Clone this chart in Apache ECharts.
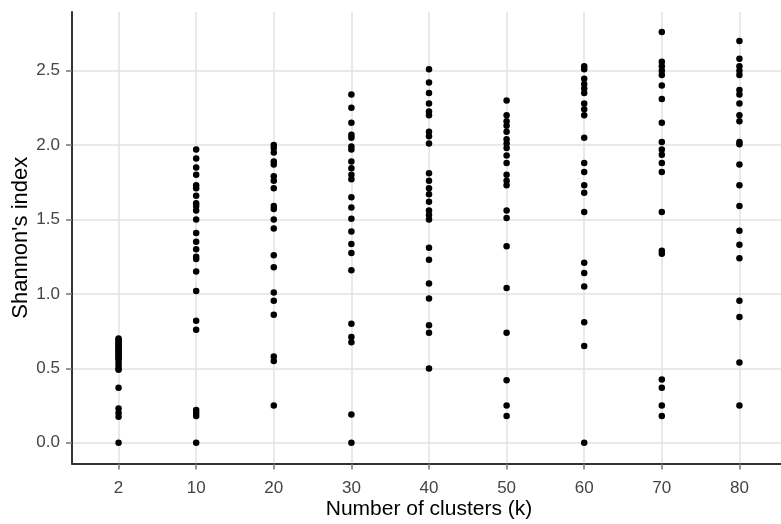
<!DOCTYPE html>
<html>
<head>
<meta charset="utf-8">
<script src="https://cdn.jsdelivr.net/npm/echarts@6/dist/echarts.min.js"></script>
<style>
  html, body { margin: 0; padding: 0; background: #fff; }
  #main { width: 781px; height: 524px; }
</style>
</head>
<body>
<div id="main"></div>
<script>
// categories on the x axis
var clusters = ['2', '10', '20', '30', '40', '50', '60', '70', '80'];
var yTicks = [0, 0.5, 1.0, 1.5, 2.0, 2.5];

// Shannon's index values
var k2 = [0.70, 0.69, 0.68, 0.67, 0.66, 0.65, 0.64, 0.63, 0.62, 0.61, 0.60, 0.59, 0.58, 0.57, 0.56, 0.54, 0.52, 0.50, 0.49, 0.37, 0.23, 0.20, 0.175, 0.0];
var k10 = [1.97, 1.91, 1.85, 1.80, 1.73, 1.71, 1.66, 1.61, 1.59, 1.56, 1.50, 1.41, 1.35, 1.30, 1.25, 1.235, 1.15, 1.02, 0.82, 0.76, 0.22, 0.20, 0.18, 0.0];
var k20 = [2.00, 1.98, 1.95, 1.89, 1.87, 1.79, 1.76, 1.71, 1.59, 1.57, 1.50, 1.44, 1.26, 1.18, 1.01, 0.955, 0.86, 0.58, 0.55, 0.25];
var k30 = [2.34, 2.25, 2.15, 2.07, 2.05, 1.99, 1.97, 1.89, 1.845, 1.80, 1.77, 1.65, 1.58, 1.505, 1.42, 1.335, 1.275, 1.16, 0.80, 0.71, 0.675, 0.19, 0.0];
var k40 = [2.51, 2.42, 2.35, 2.28, 2.225, 2.20, 2.09, 2.06, 2.01, 1.81, 1.76, 1.71, 1.67, 1.62, 1.56, 1.53, 1.50, 1.31, 1.23, 1.07, 0.97, 0.79, 0.74, 0.50];
var k50 = [2.30, 2.20, 2.16, 2.13, 2.09, 2.04, 2.01, 1.98, 1.93, 1.88, 1.80, 1.76, 1.73, 1.56, 1.51, 1.32, 1.04, 0.74, 0.42, 0.25, 0.18];
var k60 = [2.53, 2.51, 2.445, 2.41, 2.38, 2.35, 2.28, 2.24, 2.20, 2.05, 1.88, 1.82, 1.73, 1.68, 1.55, 1.21, 1.14, 1.05, 0.81, 0.65, 0.0];
var k70 = [2.76, 2.56, 2.53, 2.50, 2.47, 2.40, 2.31, 2.15, 2.02, 1.97, 1.935, 1.88, 1.82, 1.55, 1.29, 1.27, 0.425, 0.37, 0.25, 0.18];
var k80 = [2.70, 2.58, 2.53, 2.50, 2.47, 2.37, 2.34, 2.28, 2.20, 2.16, 2.02, 2.005, 1.87, 1.73, 1.59, 1.425, 1.33, 1.24, 0.955, 0.845, 0.54, 0.25];

var columns = [k2, k10, k20, k30, k40, k50, k60, k70, k80];

var points = [];
columns.forEach(function (vals, i) {
  vals.forEach(function (v) {
    points.push([i, v]);
  });
});

var catIdx = clusters.map(function (c, i) { return i; });

var chart = echarts.init(document.getElementById('main'));
var option = {
  animation: false,
  grid: { left: 72, top: 12, width: 714, height: 451.5, outerBoundsMode: 'none' },
  xAxis: {
    type: 'value',
    min: -0.6,
    max: 8.6,
    name: 'Number of clusters (k)',
    nameLocation: 'middle',
    nameGap: 35,
    nameMoveOverlap: false,
    nameTextStyle: { color: '#000', fontSize: 21, fontFamily: 'Liberation Sans' },
    axisLine: { show: true, onZero: false, lineStyle: { color: '#333', width: 2 } },
    axisTick: { show: true, length: 6, customValues: catIdx, lineStyle: { color: '#777', width: 1.5 } },
    axisLabel: {
      customValues: catIdx,
      color: '#444', fontSize: 17, fontFamily: 'Liberation Sans', margin: 16,
      formatter: function (v) { return clusters[Math.round(v)]; }
    },
    splitLine: { show: true, lineStyle: { color: '#e2e2e2', width: 1.5 } }
  },
  yAxis: {
    type: 'value',
    min: -0.139,
    max: 2.894,
    name: "Shannon's index",
    nameLocation: 'middle',
    nameGap: 40,
    nameMoveOverlap: false,
    nameTextStyle: { color: '#000', fontSize: 22, fontFamily: 'Liberation Sans' },
    axisLine: { show: true, onZero: false, lineStyle: { color: '#333', width: 2 } },
    axisTick: { show: true, length: 6, customValues: yTicks, lineStyle: { color: '#777', width: 1.5 } },
    axisLabel: {
      customValues: yTicks,
      color: '#444', fontSize: 17, fontFamily: 'Liberation Sans', margin: 12,
      formatter: function (v) { return v.toFixed(1); }
    },
    splitLine: { show: true, lineStyle: { color: '#e2e2e2', width: 1.5 } }
  },
  series: [{
    type: 'scatter',
    data: points,
    symbol: 'circle',
    symbolSize: 6.5,
    itemStyle: { color: '#000', opacity: 1 }
  }]
};
chart.setOption(option);
</script>
</body>
</html>
